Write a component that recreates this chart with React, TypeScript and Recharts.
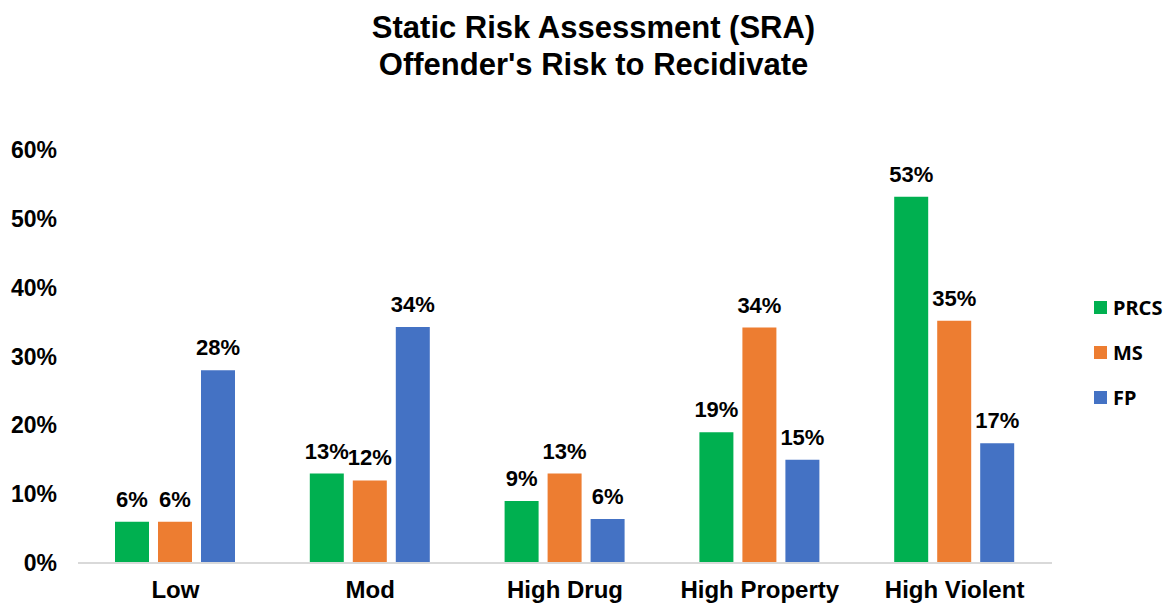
import React from 'react';
import { BarChart, Bar, XAxis, YAxis, LabelList } from 'recharts';

const categories = ['Low', 'Mod', 'High Drug', 'High Property', 'High Violent'];
const prcs = [6, 13, 9, 19, 53.2];
const ms = [6, 12, 13, 34.2, 35.2];
const fp = [28, 34.3, 6.4, 15, 17.4];
const yTicks = [0, 10, 20, 30, 40, 50, 60];

const series = [
  { key: 'prcs', name: 'PRCS', color: '#00B050' },
  { key: 'ms', name: 'MS', color: '#ED7D31' },
  { key: 'fp', name: 'FP', color: '#4472C4' },
];

const data = categories.map((c, i) => ({ category: c, prcs: prcs[i], ms: ms[i], fp: fp[i] }));

const FONT = 'Arial, "Liberation Sans", sans-serif';

const SideLegend = () => (
  <div style={{ position: 'absolute', left: 1094, top: 285 }}>
    {series.map((s) => (
      <div key={s.key} style={{ display: 'flex', alignItems: 'center', height: 45 }}>
        <div style={{ width: 13, height: 13, background: s.color, marginRight: 6 }} />
        <span style={{ fontFamily: '"Noto Sans", sans-serif', fontWeight: 700, fontSize: 20, color: '#000' }}>
          {s.name}
        </span>
      </div>
    ))}
  </div>
);

export default function App() {
  return (
    <div style={{ position: 'fixed', left: 0, top: 0, width: 1167, height: 603, background: '#fff', overflow: 'hidden' }}>
      <div
        style={{
          position: 'absolute',
          left: 0,
          top: 9,
          width: 1187,
          textAlign: 'center',
          fontFamily: FONT,
          fontWeight: 700,
          fontSize: 31,
          lineHeight: '37px',
          color: '#000',
        }}
      >
        Static Risk Assessment (SRA)
        <br />
        Offender's Risk to Recidivate
      </div>
      <BarChart
        width={1052}
        height={603}
        data={data}
        margin={{ top: 150, right: 0, left: 0, bottom: 0 }}
        barSize={34}
        barGap={9}
      >
        <XAxis
          dataKey="category"
          height={40}
          axisLine={{ stroke: '#d9d9d9', strokeWidth: 2 }}
          tickLine={false}
          tickSize={0}
          tickMargin={18}
          interval={0}
          tick={{ fontFamily: FONT, fontWeight: 700, fontSize: 24, fill: '#000' }}
        />
        <YAxis
          width={78}
          domain={[0, 60]}
          ticks={yTicks}
          axisLine={false}
          tickLine={false}
          tickSize={0}
          tickMargin={21}
          tickFormatter={(v: number) => `${v}%`}
          tick={{ fontFamily: FONT, fontWeight: 700, fontSize: 23, fill: '#000' }}
        />
        {series.map((s) => (
          <Bar key={s.key} dataKey={s.key} name={s.name} fill={s.color} isAnimationActive={false}>
            <LabelList
              dataKey={s.key}
              position="top"
              offset={15}
              formatter={(v: any) => `${Math.round(Number(v))}%`}
              style={{ fontFamily: FONT, fontWeight: 700, fontSize: 22, fill: '#000' }}
            />
          </Bar>
        ))}
      </BarChart>
      <SideLegend />
    </div>
  );
}
